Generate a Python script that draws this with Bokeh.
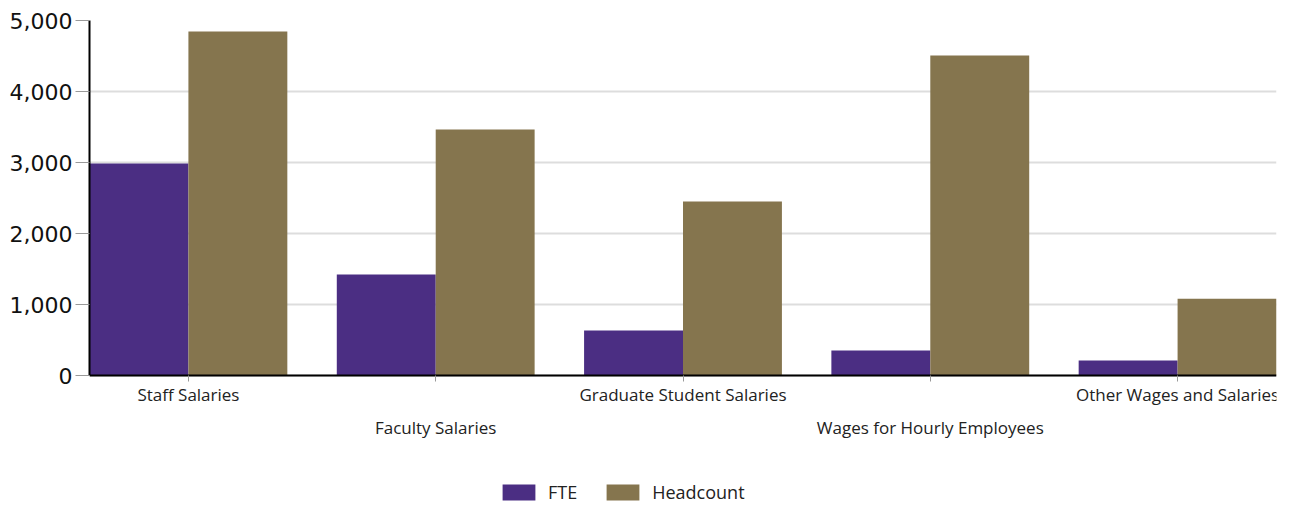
from bokeh.plotting import figure
from bokeh.models import (ColumnDataSource, Legend, LegendItem, NumeralTickFormatter,
                          FixedTicker, Range1d, LinearAxis)
from bokeh.embed import file_html
from bokeh.resources import INLINE

categories = ["Staff Salaries", "Faculty Salaries", "Graduate Student Salaries",
              "Wages for Hourly Employees", "Other Wages and Salaries"]
fte = [2985, 1422, 633, 352, 211]
headcount = [4845, 3465, 2451, 4507, 1082]
y_ticks = [0, 1000, 2000, 3000, 4000, 5000]

PURPLE = "#4B2E83"
GOLD = "#85754E"

idx = list(range(len(categories)))
src = ColumnDataSource(dict(
    x_fte=[i - 0.2 for i in idx],
    x_hc=[i + 0.2 for i in idx],
    fte=fte, hc=headcount))

# The frame reaches down to the bottom of the page so that the legend below the
# axis can be placed inside it; the value axis covers 0..5000 over the top 355 px.
Y_MAX = 5000
PLOT_PX = 355
FRAME_PX = 486
y_min = -Y_MAX * (FRAME_PX - PLOT_PX) / PLOT_PX

p = figure(frame_width=1187, frame_height=FRAME_PX, output_backend="svg", toolbar_location=None,
           x_range=Range1d(-0.4, len(categories) - 0.6), y_range=Range1d(y_min, Y_MAX),
           min_border_left=89, min_border_right=15, min_border_top=20, min_border_bottom=0)
p.outline_line_color = None

r1 = p.vbar(x="x_fte", top="fte", width=0.4, source=src, fill_color=PURPLE, line_color=None)
r2 = p.vbar(x="x_hc", top="hc", width=0.4, source=src, fill_color=GOLD, line_color=None)

odd = [i for i in idx if i % 2 == 1]

def style_x(ax):
    ax.major_label_text_font = "Open Sans"
    ax.major_label_text_font_size = "17px"
    ax.major_label_text_color = "#222222"
    ax.minor_tick_line_color = None
    ax.major_tick_in = 0
    ax.fixed_location = 0

# first row of category labels (with the axis line and all tick marks)
xa = p.xaxis[0]
xa.ticker = FixedTicker(ticks=idx)
xa.major_label_overrides = {i: (categories[i] if i % 2 == 0 else "") for i in idx}
style_x(xa)
xa.axis_line_color = "black"
xa.axis_line_width = 2
xa.major_tick_line_color = "#999999"
xa.major_tick_out = 6
xa.major_label_standoff = 1
p.xgrid.grid_line_color = None

# second (staggered) row of category labels
xa2 = LinearAxis(ticker=FixedTicker(ticks=odd),
                 major_label_overrides={i: categories[i] for i in odd})
style_x(xa2)
xa2.axis_line_color = None
xa2.major_tick_line_color = None
xa2.major_tick_out = 0
xa2.major_label_standoff = 40
p.add_layout(xa2, "below")

ya = p.yaxis[0]
ya.ticker = FixedTicker(ticks=y_ticks)
ya.bounds = (0, Y_MAX)
ya.formatter = NumeralTickFormatter(format="0,0")
ya.major_label_text_font = "DejaVu Sans"
ya.major_label_text_font_size = "22px"
ya.major_label_text_color = "#111111"
ya.axis_line_color = "black"
ya.axis_line_width = 2
ya.major_tick_line_color = "#999999"
ya.major_tick_out = 14
ya.major_tick_in = 0
ya.minor_tick_line_color = None
ya.major_label_standoff = 3
p.ygrid.grid_line_color = "#dddddd"
p.ygrid.grid_line_width = 2

legend = Legend(items=[LegendItem(label="FTE", renderers=[r1]),
                       LegendItem(label="Headcount", renderers=[r2])],
                orientation="horizontal", location=(409, 2))
legend.label_text_font = "Open Sans"
legend.label_text_font_size = "18px"
legend.label_text_color = "#222222"
legend.glyph_width = 41
legend.glyph_height = 20
legend.label_standoff = 9
legend.spacing = 25
legend.border_line_color = None
legend.background_fill_alpha = 0
legend.margin = 0
legend.padding = 2
p.add_layout(legend, "center")

open("out.html", "w").write(file_html(p, INLINE))
